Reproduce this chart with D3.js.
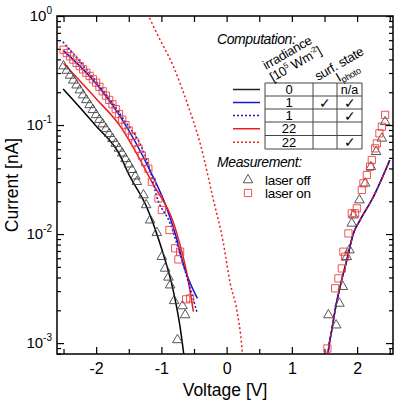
<!DOCTYPE html>
<html><head><meta charset="utf-8">
<script src="https://cdn.jsdelivr.net/npm/d3@7"></script>
<style>
body{margin:0;background:#fff}
svg{display:block}
text{font-family:"Liberation Sans",Arial,sans-serif;fill:#000}
</style>
</head><body>
<svg id="chart" width="400" height="405"></svg>
<script>
// ---------------- DATA (voltage [V], current [nA]) ----------------
const comp0Left = [[-2.506,0.214],[-2.015,0.100],[-1.632,0.0525],[-1.51,0.0363],[-1.22,0.0174],[-0.99,0.00713],[-0.82,0.00306],[-0.713,0.00140],[-0.651,0.000741]];
const comp1Left = [[-2.501,0.481],[-2.0,0.240],[-1.632,0.120],[-1.172,0.038],[-0.916,0.0172],[-0.789,0.01014],[-0.636,0.00468],[-0.448,0.00257]];
const comp1dLeft = [[-2.51,0.581],[-2.0,0.251],[-1.632,0.126],[-1.172,0.038],[-1.07,0.0220],[-0.866,0.01253],[-0.687,0.00577],[-0.457,0.00194]];
const comp22Left = [[-2.501,0.368],[-2.0,0.174],[-1.632,0.0977],[-1.479,0.0698],[-1.162,0.0313],[-0.763,0.01014],[-0.61,0.00437],[-0.509,0.00194]];
const comp22dLeft = [[-1.21,1.05],[-1.096,0.745],[-0.815,0.343],[-0.585,0.147],[-0.406,0.0679],[-0.202,0.0205],[-0.049,0.00822],[0.054,0.00355],[0.156,0.00201],[0.233,0.000925],[0.245,0.000759]];
const compRight = [[1.553,0.00079],[1.56,0.000863],[1.612,0.00132],[1.663,0.00201],[1.739,0.00329],[1.842,0.00577],[1.943,0.01014],[2.046,0.01343],[2.25,0.0220],[2.50,0.0475]];

const laserOffLeft = [[-2.50,0.347],[-2.45,0.316],[-2.40,0.285],[-2.35,0.257],[-2.30,0.232],[-2.25,0.209],[-2.20,0.188],[-2.15,0.170],[-2.10,0.153],[-2.05,0.138],[-2.00,0.124],[-1.95,0.112],[-1.90,0.102],[-1.85,0.0923],[-1.80,0.0832],[-1.75,0.0750],[-1.70,0.0676],[-1.65,0.0610],[-1.60,0.0550],[-1.55,0.0490],[-1.50,0.0437],[-1.45,0.0389],[-1.40,0.0339],[-1.376,0.0302],[-1.275,0.0228],[-1.234,0.0185],[-1.172,0.0134],[-1.07,0.0103],[-0.993,0.0062],[-0.943,0.00484],[-0.892,0.00401],[-0.866,0.00340],[-0.805,0.00244],[-0.677,0.00219],[-0.636,0.00181],[-0.754,0.00107]];
const laserOffRight = [[2.429,0.107],[2.379,0.0755],[2.291,0.0569],[2.21,0.0414],[2.123,0.0292],[2.035,0.0205],[1.943,0.0149],[1.918,0.01253],[1.882,0.00713],[1.842,0.00619],[1.781,0.00329],[1.729,0.00231],[1.56,0.00181],[1.679,0.00146]];
const laserOnLeft = [[-2.50,0.490],[-2.45,0.457],[-2.40,0.427],[-2.35,0.398],[-2.30,0.372],[-2.25,0.347],[-2.20,0.324],[-2.15,0.302],[-2.10,0.282],[-2.05,0.263],[-2.00,0.245],[-1.95,0.224],[-1.90,0.204],[-1.85,0.186],[-1.80,0.170],[-1.75,0.155],[-1.70,0.140],[-1.65,0.126],[-1.60,0.112],[-1.55,0.100],[-1.50,0.0891],[-1.45,0.0794],[-1.40,0.0692],[-1.35,0.0603],[-1.30,0.0525],[-1.25,0.0457],[-1.20,0.0398],[-1.146,0.0302],[-1.045,0.0212],[-0.993,0.0166],[-0.876,0.01089],[-0.789,0.00740],[-0.713,0.00689],[-0.739,0.00586],[-0.621,0.00252],[-0.559,0.00257]];
const laserOnRight = [[2.429,0.124],[2.379,0.0966],[2.342,0.0839],[2.302,0.0679],[2.276,0.0611],[2.225,0.0478],[2.199,0.0414],[2.149,0.0348],[2.097,0.0292],[2.072,0.0254],[1.995,0.0172],[1.969,0.0155],[1.918,0.0155],[1.867,0.01014],[1.79,0.00689],[1.816,0.00619],[1.766,0.00484],[1.713,0.00392],[1.663,0.00318],[1.545,0.000893]];

const xMajorTicks = [-2,-1,0,1,2];
const xMinorTicks = [-2.5,-1.5,-0.5,0.5,1.5,2.5];
const yDecadeTicks = [1e-3,1e-2,1e-1,1];
const yDecadeExponents = ["-3","-2","-1","0"];

const tableIrradiance = ["0","1","1","22","22"];
const tableSurfState = ["","\u2713","","",""];
const tablePhoto = ["n/a","\u2713","\u2713","","\u2713"];

// ---------------- LAYOUT ----------------
const L=57,R=393,T=16,B=354;
const RED="#ee1c1c", BLUE="#1414d4", SQ="#ee4040", TRI="#444";
const svg = d3.select("#chart");
const x = d3.scaleLinear().domain([-2.6,2.55]).range([L,R]);
const y = d3.scaleLog().domain([Math.pow(10,-3.1),1]).range([B,T]);

svg.append("defs").append("clipPath").attr("id","plotclip")
  .append("rect").attr("x",L).attr("y",T).attr("width",R-L).attr("height",B-T);

const yMinorTicks=[];
[1e-4,1e-3,1e-2,1e-1].forEach(d=>{for(let k=2;k<=9;k++){const v=k*d; if(v>=y.domain()[0]&&v<=1) yMinorTicks.push(v);}});

function axisGroup(axis, tx, ty){
  const g = svg.append("g").attr("transform",`translate(${tx},${ty})`).call(axis);
  g.select(".domain").remove();
  g.selectAll(".tick line").attr("stroke","#000").attr("stroke-width",1.2);
  return g;
}
const gxb = axisGroup(d3.axisBottom(x).tickValues(xMajorTicks).tickSize(-7).tickPadding(9).tickFormat(d=>d<0?"-"+Math.abs(d):String(d)),0,B);
gxb.selectAll(".tick text").attr("font-size",16).attr("font-family","Liberation Sans, Arial, sans-serif");
axisGroup(d3.axisBottom(x).tickValues(xMinorTicks).tickSize(-5).tickFormat(""),0,B);
axisGroup(d3.axisTop(x).tickValues(xMajorTicks.concat(xMinorTicks)).tickSize(-6).tickFormat(""),0,T);
const gyl = axisGroup(d3.axisLeft(y).tickValues(yDecadeTicks).tickSize(-7).tickPadding(5).tickFormat(""),L,0);
gyl.selectAll(".tick text").attr("font-family","Liberation Sans, Arial, sans-serif").each(function(d){
  const t=d3.select(this).attr("font-size",15);
  t.append("tspan").text("10");
  t.append("tspan").attr("font-size",10).attr("dy","-0.75em").text(yDecadeExponents[yDecadeTicks.indexOf(d)]);
});
axisGroup(d3.axisLeft(y).tickValues(yMinorTicks).tickSize(-4).tickFormat(""),L,0);
axisGroup(d3.axisRight(y).tickValues(yDecadeTicks).tickSize(-7).tickFormat(""),R,0);
axisGroup(d3.axisRight(y).tickValues(yMinorTicks).tickSize(-4).tickFormat(""),R,0);

svg.append("rect").attr("x",L).attr("y",T).attr("width",R-L).attr("height",B-T)
  .attr("fill","none").attr("stroke","#000").attr("stroke-width",1.5);

svg.append("text").attr("x",(L+R)/2).attr("y",396).attr("text-anchor","middle").attr("font-size",17.5).text("Voltage [V]");
svg.append("text").attr("transform",`translate(18,${(T+B)/2}) rotate(-90)`).attr("text-anchor","middle").attr("font-size",17.5).text("Current [nA]");

// ---------------- LINES ----------------
const line = d3.line().x(d=>x(d[0])).y(d=>y(d[1])).curve(d3.curveMonotoneX);
const plot = svg.append("g").attr("clip-path","url(#plotclip)");
const series = [
  {data:comp0Left, color:"#000", dash:null},
  {data:compRight, color:"#000", dash:null},
  {data:comp1Left, color:BLUE, dash:null},
  {data:compRight, color:BLUE, dash:null},
  {data:comp22Left, color:RED, dash:null},
  {data:compRight, color:RED, dash:"3,3"},
  {data:comp1dLeft, color:BLUE, dash:"2,2"},
  {data:comp22dLeft, color:RED, dash:"2,2.5"}
];
series.forEach(s=>{
  plot.append("path").datum(s.data).attr("d",line).attr("fill","none")
    .attr("stroke",s.color).attr("stroke-width",1.5).attr("stroke-dasharray",s.dash);
});

const tri = d3.symbol(d3.symbolTriangle,40);
const sq = d3.symbol(d3.symbolSquare,52);
plot.selectAll(".tri").data(laserOffLeft.concat(laserOffRight)).join("path")
  .attr("transform",d=>`translate(${x(d[0])},${y(d[1])})`).attr("d",tri)
  .attr("fill","none").attr("stroke",TRI).attr("stroke-width",0.9);
plot.selectAll(".sq").data(laserOnLeft.concat(laserOnRight)).join("path")
  .attr("transform",d=>`translate(${x(d[0])},${y(d[1])})`).attr("d",sq)
  .attr("fill","none").attr("stroke",SQ).attr("stroke-width",0.9);

// ---------------- LEGEND ----------------
const lg = svg.append("g");
const fs = 13.5;
lg.append("text").attr("x",217).attr("y",44).attr("font-size",14).attr("font-style","italic").attr("letter-spacing",-0.4).text("Computation:");
const hdr=(tx,ty,build)=>{const t=lg.append("text").attr("transform",`translate(${tx},${ty}) rotate(-30)`).attr("font-size",13).attr("letter-spacing",-0.3); build(t);};
hdr(266,70,t=>t.text("irradiance"));
hdr(273,82,t=>{t.append("tspan").text("[10");t.append("tspan").attr("font-size",8).attr("dy",-5).text("5");t.append("tspan").attr("dy",5).text(" Wm");t.append("tspan").attr("font-size",8).attr("dy",-5).text("-2");t.append("tspan").attr("dy",5).text("]");});
hdr(318,81,t=>t.text("surf. state"));
hdr(339,82,t=>{t.append("tspan").text("I");t.append("tspan").attr("font-size",9).attr("dy",3).text("photo");});

const colX=[265,313,337,362];
const rowY=[83,96,109,122,135.5,149];
rowY.forEach(v=>lg.append("line").attr("x1",colX[0]).attr("x2",colX[3]).attr("y1",v).attr("y2",v).attr("stroke","#444").attr("stroke-width",1));
colX.forEach(v=>lg.append("line").attr("x1",v).attr("x2",v).attr("y1",rowY[0]).attr("y2",rowY[5]).attr("stroke","#444").attr("stroke-width",1));
const sampleStyles=[{c:"#222",d:null},{c:BLUE,d:null},{c:BLUE,d:"2,2"},{c:RED,d:null},{c:RED,d:"2,2"}];
tableIrradiance.forEach((v,i)=>{
  const cy=(rowY[i]+rowY[i+1])/2;
  lg.append("line").attr("x1",233).attr("x2",260).attr("y1",cy).attr("y2",cy)
    .attr("stroke",sampleStyles[i].c).attr("stroke-width",1.5).attr("stroke-dasharray",sampleStyles[i].d);
  lg.append("text").attr("x",(colX[0]+colX[1])/2).attr("y",cy+4.5).attr("text-anchor","middle").attr("font-size",13).text(v);
  if(tableSurfState[i]) lg.append("text").attr("x",(colX[1]+colX[2])/2).attr("y",cy+5).attr("text-anchor","middle").attr("font-size",14).attr("font-family","DejaVu Sans").text(tableSurfState[i]);
  if(tablePhoto[i]) lg.append("text").attr("x",(colX[2]+colX[3])/2).attr("y",cy+(tablePhoto[i]==="n/a"?4.5:5)).attr("text-anchor","middle").attr("font-size",tablePhoto[i]==="n/a"?12.5:14)
     .attr("font-family",tablePhoto[i]==="n/a"?null:"DejaVu Sans").text(tablePhoto[i]);
});
lg.append("text").attr("x",217).attr("y",167).attr("font-size",14).attr("font-style","italic").attr("letter-spacing",-0.4).text("Measurement:");
lg.append("path").attr("transform","translate(248,180)").attr("d",tri).attr("fill","none").attr("stroke",TRI).attr("stroke-width",0.9);
lg.append("text").attr("x",265).attr("y",185).attr("font-size",fs).attr("letter-spacing",-0.3).text("laser off");
lg.append("path").attr("transform","translate(248,193)").attr("d",sq).attr("fill","none").attr("stroke",SQ).attr("stroke-width",0.9);
lg.append("text").attr("x",265).attr("y",198).attr("font-size",fs).attr("letter-spacing",-0.3).text("laser on");
</script>
</body></html>
